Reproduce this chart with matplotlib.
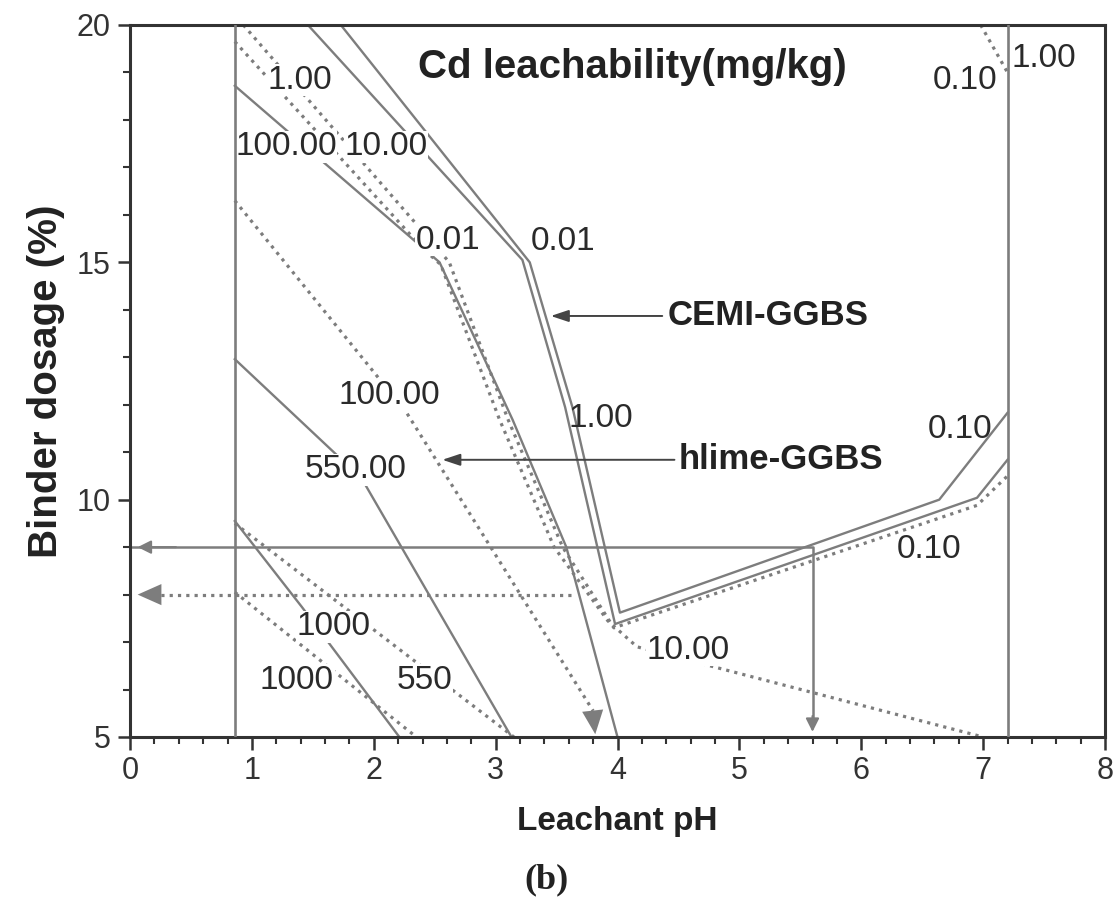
import matplotlib.pyplot as plt
from matplotlib.ticker import MultipleLocator

plt.rcParams['font.family'] = ['Liberation Sans', 'DejaVu Sans']

# CEMI-GGBS contours (solid lines)
cemi_a_x = [1.46, 3.22, 3.57, 3.98, 6.95, 7.2]
cemi_a_y = [20.0, 15.05, 11.95, 7.38, 10.04, 10.84]
cemi_b_x = [1.73, 3.28, 3.63, 4.02, 6.64, 7.2]
cemi_b_y = [20.0, 15.0, 11.95, 7.62, 10.0, 11.83]
cemi_100_x = [0.86, 2.54, 3.14, 3.58, 4.0]
cemi_100_y = [18.72, 15.0, 11.68, 9.0, 5.0]
cemi_550_x = [0.86, 1.9, 3.13]
cemi_550_y = [12.96, 10.45, 5.0]
cemi_1000_x = [0.86, 1.41, 2.21]
cemi_1000_y = [9.55, 7.74, 5.0]

# hlime-GGBS contours (dotted lines)
hlime_a_x = [0.93, 2.47, 2.62, 3.1, 3.55, 3.97, 6.95, 7.2]
hlime_a_y = [20.0, 15.45, 15.0, 11.7, 9.0, 7.3, 9.88, 10.5]
hlime_b_x = [0.86, 2.4, 2.55, 3.03, 3.48, 3.92, 4.16, 7.0]
hlime_b_y = [19.65, 15.3, 14.95, 11.7, 9.0, 7.45, 6.9, 5.0]
hlime_100_x = [0.86, 1.94, 2.27, 3.8]
hlime_100_y = [16.3, 12.88, 11.83, 5.55]
hlime_550_x = [0.86, 3.15]
hlime_550_y = [9.5, 5.0]
hlime_1000_x = [0.86, 2.35]
hlime_1000_y = [8.05, 5.0]
hlime_top_x = [6.98, 7.2]
hlime_top_y = [20.0, 19.0]

# pH limits and read-off guides
ph_limits = [0.86, 7.2]
guide_cemi_x = [0.0, 5.6, 5.6]
guide_cemi_y = [9.0, 9.0, 5.35]
guide_hlime_x = [3.62, 0.15]
guide_hlime_y = [8.0, 8.0]

# contour labels: text, x, y
labels = [("1.00", 1.39, 18.84), ("100.00", 1.28, 17.43), ("10.00", 2.1, 17.43),
          ("0.01", 2.61, 15.47), ("0.01", 3.55, 15.43), ("1.00", 3.86, 11.72),
          ("100.00", 2.13, 12.2), ("550.00", 1.85, 10.63), ("1000", 1.67, 7.32),
          ("1000", 1.37, 6.2), ("550", 2.42, 6.2), ("10.00", 4.58, 6.83),
          ("0.10", 6.81, 11.47), ("0.10", 6.56, 8.94), ("0.10", 6.85, 18.84),
          ("1.00", 7.5, 19.3)]
boxed = [True, True, True, True, False, False, True, True, True, True, True, True,
         False, False, False, False]

gray = '#7d7d7d'
dark = '#333333'

fig = plt.figure(figsize=(11.19, 9.19), dpi=100)
ax = fig.add_axes([130 / 1119, 1 - 737 / 919, 975 / 1119, 712 / 919])

for xs, ys in [(cemi_a_x, cemi_a_y), (cemi_b_x, cemi_b_y), (cemi_100_x, cemi_100_y),
               (cemi_550_x, cemi_550_y), (cemi_1000_x, cemi_1000_y)]:
    ax.plot(xs, ys, color=gray, lw=1.7, zorder=2)

for xs, ys in [(hlime_a_x, hlime_a_y), (hlime_b_x, hlime_b_y), (hlime_100_x, hlime_100_y),
               (hlime_550_x, hlime_550_y), (hlime_1000_x, hlime_1000_y), (hlime_top_x, hlime_top_y)]:
    ax.plot(xs, ys, color=gray, lw=2.3, ls=(0, (1, 1.6)), zorder=2)

# pH limit lines stay on top of the label boxes
for xv in ph_limits:
    ax.axvline(xv, color=gray, lw=1.9, zorder=5)

ax.plot(guide_cemi_x, guide_cemi_y, color=gray, lw=1.8, zorder=2)
ax.plot(guide_hlime_x, guide_hlime_y, color=gray, lw=2.3, ls=(0, (1, 1.6)), zorder=2)

# arrow heads
small = dict(arrowstyle='-|>,head_length=0.5,head_width=0.25', color=gray, lw=1.5, mutation_scale=16)
big = dict(arrowstyle='-|>,head_length=0.9,head_width=0.4', color=gray, lw=0, mutation_scale=19)
ax.annotate('', xy=(0.04, 9.0), xytext=(0.4, 9.0), arrowprops=small, annotation_clip=False)
ax.annotate('', xy=(5.6, 5.05), xytext=(5.6, 5.5), arrowprops=small, annotation_clip=False)
ax.annotate('', xy=(0.04, 8.0), xytext=(0.3, 8.0), arrowprops=big, annotation_clip=False)
ax.annotate('', xy=(3.82, 5.0), xytext=(3.79, 5.7), arrowprops=big, annotation_clip=False)

pointer = dict(arrowstyle='-|>,head_length=0.6,head_width=0.2', color='#444444', lw=1.4, mutation_scale=18)
ax.annotate('', xy=(3.43, 13.87), xytext=(4.39, 13.87), arrowprops=pointer)
ax.annotate('', xy=(2.54, 10.84), xytext=(4.49, 10.84), arrowprops=pointer)
ax.text(4.41, 13.87, 'CEMI-GGBS', fontsize=25, fontweight='bold', color='#222222',
        ha='left', va='center')
ax.text(4.5, 10.84, 'hlime-GGBS', fontsize=25, fontweight='bold', color='#222222',
        ha='left', va='center')

for (txt, lx, ly), b in zip(labels, boxed):
    kw = {}
    if b:
        kw['bbox'] = dict(facecolor='white', edgecolor='none', pad=0.5)
    ax.text(lx, ly, txt, fontsize=24, color='#2a2a2a', ha='center', va='center', zorder=4, **kw)

ax.text(4.12, 19.12, 'Cd leachability(mg/kg)', fontsize=29, fontweight='bold',
        color='#222222', ha='center', va='center', zorder=4)

ax.set_xlim(0, 8)
ax.set_ylim(5, 20)
ax.xaxis.set_major_locator(MultipleLocator(1))
ax.xaxis.set_minor_locator(MultipleLocator(0.2))
ax.yaxis.set_major_locator(MultipleLocator(5))
ax.yaxis.set_minor_locator(MultipleLocator(1))
ax.tick_params(which='major', direction='out', length=9, width=1.8, color=dark,
               labelsize=22, labelcolor='#333333', pad=5)
ax.tick_params(which='minor', direction='out', length=5, width=1.5, color=dark)
for s in ax.spines.values():
    s.set_linewidth(2.2)
    s.set_color(dark)

ax.set_xlabel('Leachant pH', fontsize=24, fontweight='bold', color='#222222', labelpad=14)
ax.set_ylabel('Binder dosage (%)', fontsize=29, fontweight='bold', color='#222222', labelpad=8)
fig.text(547 / 1119, 1 - 880 / 919, '(b)', fontsize=26, fontweight='bold',
         family='Liberation Serif', ha='center', va='center', color='#222222')

fig.savefig('out.png', dpi=100, facecolor='white')
